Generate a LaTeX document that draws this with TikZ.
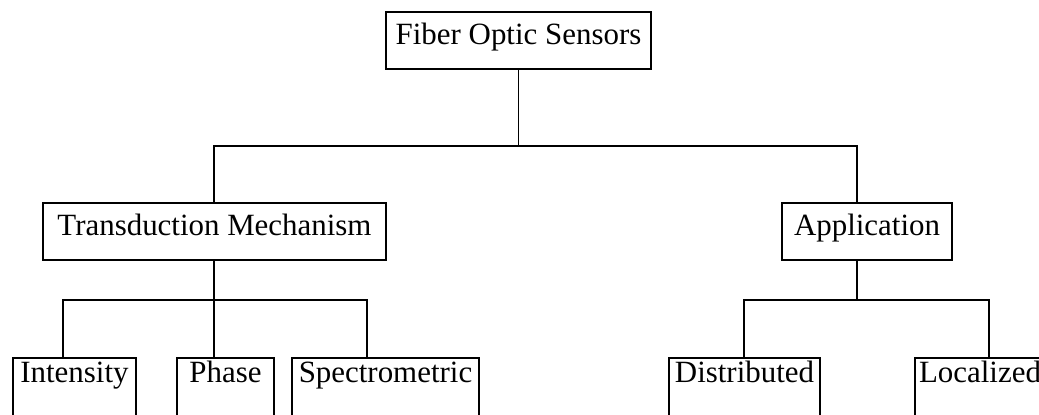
\documentclass[tikz,border=0pt]{standalone}
\usepackage{fontspec}
\setmainfont{Liberation Serif}
\usepackage{tikz}

\begin{document}
\begin{tikzpicture}[x=0.02cm, y=-0.02cm, line width=0.8pt,
	box/.style={draw, rectangle, inner sep=0pt, outer sep=0pt, anchor=north, font=\fontsize{17.6}{20}\selectfont},
	upperbox/.style={box, text height=0.66cm, text depth=0.48cm},
	leafbox/.style={box, text height=0.5cm, text depth=1.6cm}]
	\clip (0,0) rectangle (1039,415);
	\node[upperbox, minimum width=5.3cm] (fos) at (518.5, 12) {Fiber Optic Sensors};
	\node[upperbox, minimum width=6.86cm] (trans) at (214.5, 203) {Transduction Mechanism};
	\node[upperbox, minimum width=3.4cm] (app) at (867, 203) {Application};
	\node[leafbox, minimum width=2.46cm] (int) at (74.5, 358) {Intensity};
	\node[leafbox, minimum width=1.94cm] (phase) at (225.5, 358) {Phase};
	\node[leafbox, minimum width=3.74cm] (spec) at (385.5, 358) {Spectrometric};
	\node[leafbox, minimum width=3.02cm] (dist) at (744.5, 358) {Distributed};
	\node[leafbox, minimum width=2.6cm] (loc) at (980, 358) {Localized};
	\coordinate (tl) at (214, 146);
	\coordinate (tr) at (857, 146);
	\coordinate (ml) at (63, 300);
	\coordinate (mr) at (367, 300);
	\coordinate (al) at (744, 300);
	\coordinate (ar) at (989, 300);
	\draw (fos.south) -- (fos.south |- tl);
	\draw (tl |- trans.north) -- (tl) -- (tr) -- (tr |- app.north);
	\draw (tl |- trans.south) -- (tl |- phase.north);
	\draw (ml |- int.north) -- (ml) -- (mr) -- (mr |- spec.north);
	\draw (tr |- app.south) -- (tr |- al);
	\draw (al |- dist.north) -- (al) -- (ar) -- (ar |- loc.north);
\end{tikzpicture}
\end{document}
